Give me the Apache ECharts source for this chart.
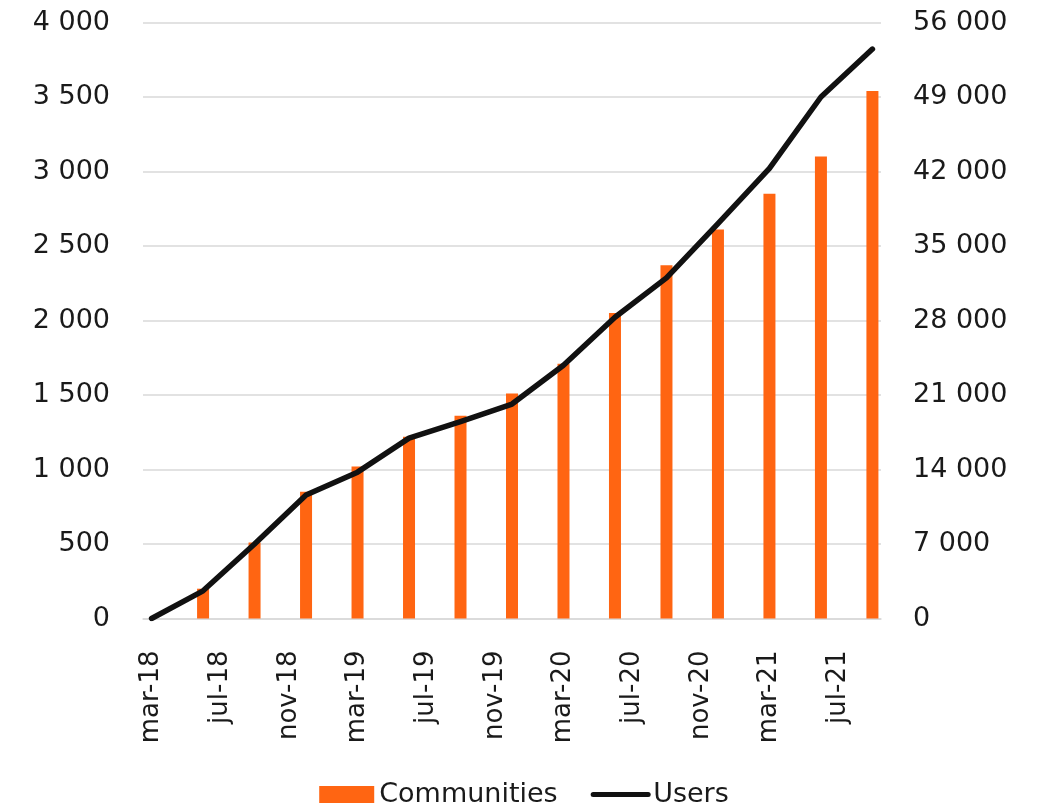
<!DOCTYPE html>
<html>
<head>
<meta charset="utf-8">
<script src="https://cdn.jsdelivr.net/npm/echarts@6/dist/echarts.min.js"></script>
<style>
  html, body { margin: 0; padding: 0; background: #ffffff; }
  #chart { width: 1048px; height: 806px; }
</style>
</head>
<body>
<div id="chart"></div>
<script>
// Quarterly observations, March 2018 to September 2021
const quarters = ['mar-18', 'jun-18', 'sep-18', 'des-18', 'mar-19', 'jun-19', 'sep-19', 'des-19',
                  'mar-20', 'jun-20', 'sep-20', 'des-20', 'mar-21', 'jun-21', 'sep-21'];
const communities = [0, 200, 510, 850, 1020, 1220, 1360, 1510, 1710, 2050, 2370, 2610, 2850, 3100, 3540];
const users = [0, 2600, 7000, 11600, 13750, 16950, 18500, 20150, 23800, 28300, 32000, 37100, 42300, 49000, 53500];

// Month names used on the monthly time axis
const monthNames = ['jan', 'feb', 'mar', 'apr', 'mai', 'jun', 'jul', 'aug', 'sep', 'okt', 'nov', 'des'];
const leftTicks = { min: 0, max: 4000, interval: 500 };
const rightTicks = { min: 0, max: 56000, interval: 7000 };

// Build the monthly category axis from mar-18 to sep-21
const months = [];
let m = 2, y = 18;
while (true) {
  const label = monthNames[m] + '-' + y;
  months.push(label);
  if (label === quarters[quarters.length - 1]) break;
  m++;
  if (m === 12) { m = 0; y++; }
}

// Place quarterly values on their month slot
const barData = months.map(() => null);
const lineData = months.map(() => null);
quarters.forEach((q, i) => {
  const idx = months.indexOf(q);
  barData[idx] = communities[i];
  lineData[idx] = users[i];
});

const fmt = v => String(v).replace(/\B(?=(\d{3})+(?!\d))/g, ' ');
const FONT = 'DejaVu Sans';
const TEXT = '#1a1a1a';
const GRID = '#d9d9d9';

const chart = echarts.init(document.getElementById('chart'));
chart.setOption({
  animation: false,
  backgroundColor: '#ffffff',
  textStyle: { fontFamily: FONT },
  grid: { left: 143, right: 167, top: 22.5, bottom: 187.5, containLabel: false },
  legend: {
    top: 776,
    left: 'center',
    itemWidth: 55,
    itemHeight: 17,
    itemGap: 33,
    textStyle: { fontFamily: FONT, fontSize: 27, color: TEXT },
    data: [
      { name: 'Communities', icon: 'rect' },
      { name: 'Users', itemStyle: { opacity: 0 }, lineStyle: { width: 5 } }
    ]
  },
  xAxis: {
    type: 'category',
    data: months,
    boundaryGap: true,
    axisLine: { lineStyle: { color: GRID, width: 1.5 } },
    axisTick: { show: false },
    axisLabel: {
      interval: 3,
      rotate: 90,
      margin: 32,
      fontSize: 26,
      fontFamily: FONT,
      color: TEXT
    }
  },
  yAxis: [
    {
      type: 'value',
      min: leftTicks.min, max: leftTicks.max, interval: leftTicks.interval,
      axisLine: { show: false },
      axisTick: { show: false },
      splitLine: { lineStyle: { color: GRID, width: 1.5 } },
      axisLabel: { formatter: fmt, margin: 33, fontSize: 27, fontFamily: FONT, color: TEXT }
    },
    {
      type: 'value',
      min: rightTicks.min, max: rightTicks.max, interval: rightTicks.interval,
      axisLine: { show: false },
      axisTick: { show: false },
      splitLine: { show: false },
      axisLabel: { formatter: fmt, margin: 32, fontSize: 27, fontFamily: FONT, color: TEXT }
    }
  ],
  series: [
    {
      name: 'Communities',
      type: 'bar',
      yAxisIndex: 0,
      data: barData,
      barWidth: 12,
      itemStyle: { color: '#ff6512' }
    },
    {
      name: 'Users',
      type: 'line',
      yAxisIndex: 1,
      data: lineData,
      connectNulls: true,
      symbol: 'none',
      lineStyle: { color: '#111111', width: 5.5, cap: 'round', join: 'round' },
      itemStyle: { color: '#111111' }
    }
  ]
});
</script>
</body>
</html>
